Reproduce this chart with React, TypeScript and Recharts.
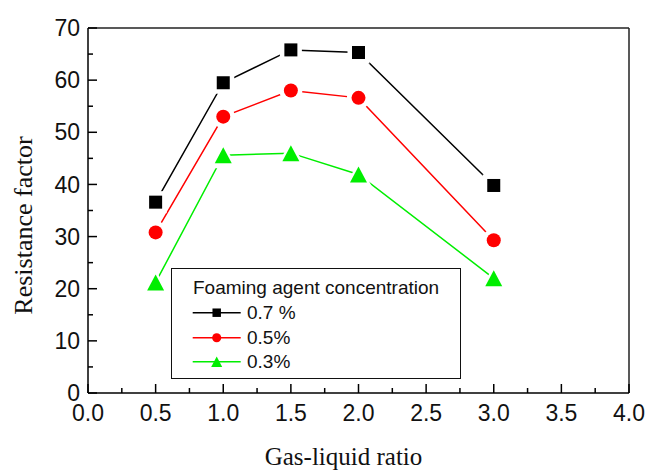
import { LineChart, Line, XAxis, YAxis, Legend, Label, ReferenceLine } from "recharts";

// x values (gas-liquid ratio)
const gasLiquidRatio = [0.5, 1.0, 1.5, 2.0, 3.0];

// resistance factor per foaming agent concentration
const conc07 = [36.6, 59.5, 65.8, 65.3, 39.8];
const conc05 = [30.8, 53.0, 58.0, 56.6, 29.3];
const conc03 = [21.2, 45.6, 46.0, 41.9, 22.0];

const xMajorTicks = [0, 0.5, 1, 1.5, 2, 2.5, 3, 3.5, 4];
const xMinorTicks = [0.25, 0.75, 1.25, 1.75, 2.25, 2.75, 3.25, 3.75];
const yMajorTicks = [0, 10, 20, 30, 40, 50, 60, 70];
const yMinorTicks = [5, 15, 25, 35, 45, 55, 65];

const legendTitle = "Foaming agent concentration";
const seriesNames = ["0.7 %", "0.5%", "0.3%"];

const series = [
  { key: "c07", name: seriesNames[0], color: "#000000", shape: "square", values: conc07 },
  { key: "c05", name: seriesNames[1], color: "#ff0000", shape: "circle", values: conc05 },
  { key: "c03", name: seriesNames[2], color: "#00ee00", shape: "triangle", values: conc03 },
];

const data = gasLiquidRatio.map((x, i) => {
  const row: any = { x };
  series.forEach((s) => (row[s.key] = s.values[i]));
  return row;
});

const sansFont = '"Liberation Sans", Arial, sans-serif';
const serifFont = '"Liberation Serif", "Times New Roman", serif';

// one marker shape; pad > 0 grows it (used for the white gap around plot markers)
function shapeEl(shape: string, cx: number, cy: number, scale: number, pad: number, fill: string) {
  if (shape === "square") {
    const s = 13 * scale + pad * 2;
    return <rect x={cx - s / 2} y={cy - s / 2} width={s} height={s} fill={fill} />;
  }
  if (shape === "circle") {
    return <circle cx={cx} cy={cy} r={7 * scale + pad} fill={fill} />;
  }
  const w = 17 * scale + pad * 2.4;
  const h = 16 * scale + pad * 2.2;
  return (
    <polygon
      points={`${cx},${cy - h / 2} ${cx + w / 2},${cy + h / 2} ${cx - w / 2},${cy + h / 2}`}
      fill={fill}
    />
  );
}

function Marker({ shape, cx, cy, color, scale = 1, halo = false }: any) {
  return (
    <g>
      {halo && shapeEl(shape, cx, cy, scale, 4.5, "#fff")}
      {shapeEl(shape, cx, cy, scale, 0, color)}
    </g>
  );
}

const X_MARGIN = 12;
const Y_MARGIN = 8;

function XTick({ x, y, payload }: any) {
  const axisY = y - X_MARGIN;
  const v = payload.value;
  const major = xMajorTicks.includes(v);
  return (
    <g>
      <line x1={x} x2={x} y1={axisY} y2={axisY - (major ? 9 : 5)} stroke="#000" strokeWidth={1.5} />
      {major && (
        <text x={x} y={y} dy="0.71em" textAnchor="middle" fontSize={23} fontFamily={sansFont} fill="#111">
          {v.toFixed(1)}
        </text>
      )}
    </g>
  );
}

function YTick({ x, y, payload }: any) {
  const axisX = x + Y_MARGIN;
  const v = payload.value;
  const major = yMajorTicks.includes(v);
  return (
    <g>
      <line x1={axisX} x2={axisX + (major ? 9 : 5)} y1={y} y2={y} stroke="#000" strokeWidth={1.5} />
      {major && (
        <text x={x} y={y} dy="0.355em" textAnchor="end" fontSize={23} fontFamily={sansFont} fill="#111">
          {v}
        </text>
      )}
    </g>
  );
}

function LegendBox() {
  const rows = [44.7, 69.7, 93.7];
  return (
    <div
      style={{
        width: 290,
        height: 111,
        boxSizing: "border-box",
        border: "1.5px solid #111",
        background: "#fff",
        position: "relative",
      }}
    >
      <svg width={290} height={111} style={{ position: "absolute", left: -1.5, top: -1.5 }}>
        <text x={22} y={19.7} dy="0.355em" fontSize={19} fontFamily={sansFont} fill="#111">
          {legendTitle}
        </text>
        {series.map((s, i) => (
          <g key={s.key}>
            <line x1={21.7} x2={69.7} y1={rows[i]} y2={rows[i]} stroke={s.color} strokeWidth={1.5} />
            <Marker shape={s.shape} cx={45.7} cy={rows[i]} color={s.color} scale={0.65} />
            <text x={76} y={rows[i]} dy="0.355em" fontSize={19} fontFamily={sansFont} fill="#111">
              {s.name}
            </text>
          </g>
        ))}
      </svg>
    </div>
  );
}

export default function App() {
  return (
    <div style={{ position: "absolute", left: 0, top: 0, background: "#fff" }}>
      <LineChart width={650} height={471} data={data} margin={{ top: 28, right: 21, left: 0, bottom: 0 }}>
        <XAxis
          dataKey="x"
          type="number"
          domain={[0, 4]}
          ticks={[...xMajorTicks, ...xMinorTicks].sort((a, b) => a - b)}
          interval={0}
          tickLine={false}
          tickSize={0}
          tickMargin={X_MARGIN}
          tick={<XTick />}
          axisLine={{ stroke: "#000", strokeWidth: 1.5 }}
          height={78}
        >
          <Label
            content={({ viewBox }: any) => (
              <text
                x={viewBox.x + viewBox.width / 2 - 15}
                y={viewBox.y + 72}
                textAnchor="middle"
                fontSize={25}
                fontFamily={serifFont}
                fill="#111"
              >
                Gas-liquid ratio
              </text>
            )}
          />
        </XAxis>
        <YAxis
          type="number"
          domain={[0, 70]}
          ticks={[...yMajorTicks, ...yMinorTicks].sort((a, b) => a - b)}
          interval={0}
          tickLine={false}
          tickSize={0}
          tickMargin={Y_MARGIN}
          tick={<YTick />}
          axisLine={{ stroke: "#000", strokeWidth: 1.5 }}
          width={88}
        >
          <Label
            content={({ viewBox }: any) => {
              const cx = viewBox.x + 23;
              const cy = viewBox.y + viewBox.height / 2 + 15;
              return (
                <text
                  x={cx}
                  y={cy}
                  transform={`rotate(-90, ${cx}, ${cy})`}
                  textAnchor="middle"
                  dominantBaseline="central"
                  fontSize={26}
                  fontFamily={serifFont}
                  fill="#111"
                >
                  Resistance factor
                </text>
              );
            }}
          />
        </YAxis>
        <ReferenceLine y={70} stroke="#222" strokeWidth={1.5} />
        <ReferenceLine x={4} stroke="#222" strokeWidth={1.5} />
        {series.map((s) => (
          <Line
            key={s.key}
            type="linear"
            dataKey={s.key}
            name={s.name}
            stroke={s.color}
            strokeWidth={1.5}
            isAnimationActive={false}
            activeDot={false}
            dot={(p: any) => (
              <Marker key={`${s.key}-${p.index}`} shape={s.shape} cx={p.cx} cy={p.cy} color={s.color} halo />
            )}
          />
        ))}
        <Legend
          layout="horizontal"
          verticalAlign="middle"
          align="center"
          wrapperStyle={{ left: 171, top: 268, width: 290, height: 111 }}
          content={() => <LegendBox />}
        />
      </LineChart>
    </div>
  );
}
